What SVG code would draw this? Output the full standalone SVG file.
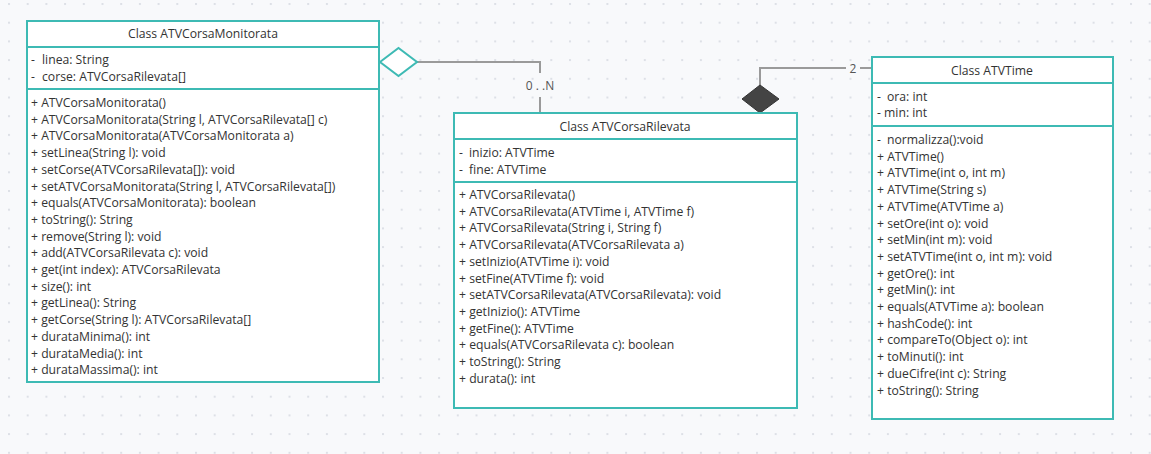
<svg xmlns="http://www.w3.org/2000/svg" width="1151" height="454" viewBox="0 0 1151 454">
<defs>
<pattern id="dots" width="18.7" height="18.7" patternUnits="userSpaceOnUse" x="8" y="3">
<rect x="0" y="0" width="2" height="2" fill="#dde0e6"/>
</pattern>
<style>
.box{fill:#fff;stroke:#3dbab4;stroke-width:2}
.sep{stroke:#3dbab4;stroke-width:2}
.t{font-family:"Open Sans","Noto Sans",sans-serif;font-size:12.2px;fill:#333}
.h{text-anchor:middle}
.con{fill:none;stroke:#9a9a9a;stroke-width:2}
.lbl{font-family:"Open Sans","Noto Sans",sans-serif;font-size:12px;fill:#555;text-anchor:middle}
</style>
</defs>
<rect width="1151" height="454" fill="#f8f9fb"/>
<rect width="1151" height="454" fill="url(#dots)"/>

<g id="connectors">
<path class="con" d="M417,62 H540 V73"/>
<path class="con" d="M540,97 V113"/>
<text class="lbl" x="540" y="90">0 . .N</text>
<polygon points="380,62 398.5,48 417,62 398.5,76" fill="#fff" stroke="#3dbab4" stroke-width="2"/>
<path class="con" d="M760,85 V68 H846"/>
<path class="con" d="M860,68 H872"/>
<text class="lbl" x="853" y="73">2</text>
<polygon points="742,99 760,85 779,99 760,113" fill="#444" stroke="#333" stroke-width="1"/>
</g>

<g id="ATVCorsaMonitorata">
<rect class="box" x="27" y="21" width="352" height="361"/>
<line class="sep" x1="27" y1="47" x2="379" y2="47"/>
<line class="sep" x1="27" y1="89" x2="379" y2="89"/>
<text class="t h" x="203" y="38">Class ATVCorsaMonitorata</text>
<text class="t" x="31" y="64">-</text><text class="t" x="42" y="64">linea: String</text>
<text class="t" x="31" y="81">-</text><text class="t" x="42" y="81">corse: ATVCorsaRilevata[]</text>
<text class="t" x="31" y="107">+ ATVCorsaMonitorata()</text>
<text class="t" x="31" y="123.7">+ ATVCorsaMonitorata(String l, ATVCorsaRilevata[] c)</text>
<text class="t" x="31" y="140.4">+ ATVCorsaMonitorata(ATVCorsaMonitorata a)</text>
<text class="t" x="31" y="157.1">+ setLinea(String l): void</text>
<text class="t" x="31" y="173.8">+ setCorse(ATVCorsaRilevata[]): void</text>
<text class="t" x="31" y="190.5">+ setATVCorsaMonitorata(String l, ATVCorsaRilevata[])</text>
<text class="t" x="31" y="207.2">+ equals(ATVCorsaMonitorata): boolean</text>
<text class="t" x="31" y="223.9">+ toString(): String</text>
<text class="t" x="31" y="240.6">+ remove(String l): void</text>
<text class="t" x="31" y="257.3">+ add(ATVCorsaRilevata c): void</text>
<text class="t" x="31" y="274">+ get(int index): ATVCorsaRilevata</text>
<text class="t" x="31" y="290.7">+ size(): int</text>
<text class="t" x="31" y="307.4">+ getLinea(): String</text>
<text class="t" x="31" y="324.1">+ getCorse(String l): ATVCorsaRilevata[]</text>
<text class="t" x="31" y="340.8">+ durataMinima(): int</text>
<text class="t" x="31" y="357.5">+ durataMedia(): int</text>
<text class="t" x="31" y="374.2">+ durataMassima(): int</text>
</g>

<g id="ATVCorsaRilevata">
<rect class="box" x="454" y="113" width="343" height="295"/>
<line class="sep" x1="454" y1="139" x2="797" y2="139"/>
<line class="sep" x1="454" y1="182" x2="797" y2="182"/>
<text class="t h" x="625" y="131">Class ATVCorsaRilevata</text>
<text class="t" x="459" y="157">-</text><text class="t" x="469" y="157">inizio: ATVTime</text>
<text class="t" x="459" y="174">-</text><text class="t" x="469" y="174">fine: ATVTime</text>
<text class="t" x="459" y="199">+ ATVCorsaRilevata()</text>
<text class="t" x="459" y="215.7">+ ATVCorsaRilevata(ATVTime i, ATVTime f)</text>
<text class="t" x="459" y="232.4">+ ATVCorsaRilevata(String i, String f)</text>
<text class="t" x="459" y="249.1">+ ATVCorsaRilevata(ATVCorsaRilevata a)</text>
<text class="t" x="459" y="265.8">+ setInizio(ATVTime i): void</text>
<text class="t" x="459" y="282.5">+ setFine(ATVTime f): void</text>
<text class="t" x="459" y="299.2">+ setATVCorsaRilevata(ATVCorsaRilevata): void</text>
<text class="t" x="459" y="315.9">+ getInizio(): ATVTime</text>
<text class="t" x="459" y="332.6">+ getFine(): ATVTime</text>
<text class="t" x="459" y="349.3">+ equals(ATVCorsaRilevata c): boolean</text>
<text class="t" x="459" y="366">+ toString(): String</text>
<text class="t" x="459" y="382.7">+ durata(): int</text>
</g>

<g id="ATVTime">
<rect class="box" x="872" y="57" width="241" height="362"/>
<line class="sep" x1="872" y1="83" x2="1113" y2="83"/>
<line class="sep" x1="872" y1="126" x2="1113" y2="126"/>
<text class="t h" x="992" y="75">Class ATVTime</text>
<text class="t" x="877" y="101">-</text><text class="t" x="887" y="101">ora: int</text>
<text class="t" x="877" y="117">- min: int</text>
<text class="t" x="877" y="144">-</text><text class="t" x="887" y="144">normalizza():void</text>
<text class="t" x="877" y="160.7">+ ATVTime()</text>
<text class="t" x="877" y="177.4">+ ATVTime(int o, int m)</text>
<text class="t" x="877" y="194.1">+ ATVTime(String s)</text>
<text class="t" x="877" y="210.8">+ ATVTime(ATVTime a)</text>
<text class="t" x="877" y="227.5">+ setOre(int o): void</text>
<text class="t" x="877" y="244.2">+ setMin(int m): void</text>
<text class="t" x="877" y="260.9">+ setATVTime(int o, int m): void</text>
<text class="t" x="877" y="277.6">+ getOre(): int</text>
<text class="t" x="877" y="294.3">+ getMin(): int</text>
<text class="t" x="877" y="311">+ equals(ATVTime a): boolean</text>
<text class="t" x="877" y="327.7">+ hashCode(): int</text>
<text class="t" x="877" y="344.4">+ compareTo(Object o): int</text>
<text class="t" x="877" y="361.1">+ toMinuti(): int</text>
<text class="t" x="877" y="377.8">+ dueCifre(int c): String</text>
<text class="t" x="877" y="394.5">+ toString(): String</text>
</g>
</svg>
